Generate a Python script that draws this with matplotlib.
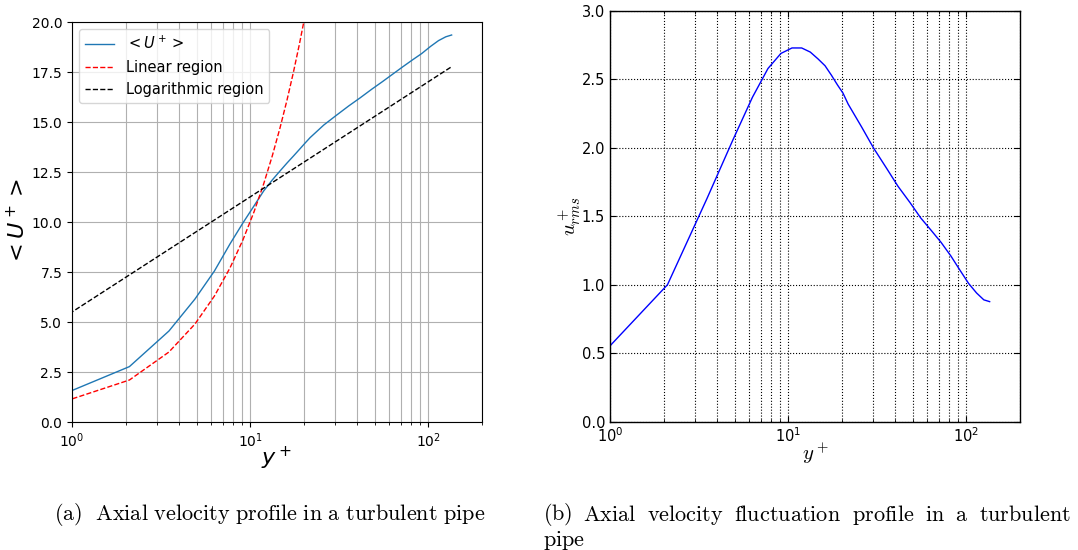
import numpy as np
import matplotlib
matplotlib.use("Agg")
import matplotlib.pyplot as plt

# Donnees (maillage proche paroi, y+ par pas ~1.4)
yplus = np.array([0.7, 2.1, 3.5, 4.9, 6.3, 7.7, 9.1, 10.5, 11.9, 13.3, 14.7,
                  16.1, 17.5, 18.9, 20.3, 21.7, 25.9, 30.1, 35.7, 41.3, 48.3,
                  55.3, 63.7, 72.1, 81.9, 91.7, 102.9, 114.1, 125.3, 135.1])
u_mean = np.array([1.0, 2.77, 4.55, 6.15, 7.55, 8.9, 9.95, 10.8, 11.55, 12.1,
                   12.55, 12.95, 13.3, 13.63, 13.94, 14.22, 14.85, 15.3, 15.8,
                   16.2, 16.65, 17.02, 17.42, 17.77, 18.12, 18.42, 18.78,
                   19.07, 19.26, 19.35])
u_rms = np.array([0.34, 1.0, 1.63, 2.06, 2.37, 2.58, 2.69, 2.73, 2.73, 2.70,
                  2.65, 2.60, 2.53, 2.46, 2.40, 2.32, 2.15, 2.0, 1.85, 1.72,
                  1.60, 1.49, 1.395, 1.31, 1.21, 1.11, 1.01, 0.94, 0.89, 0.877])

kappa = 0.4
B = 5.5

caption_a = 'Axial velocity profile in a turbulent pipe'
caption_b = ['(b)', 'Axial', 'velocity', 'fluctuation', 'profile', 'in', 'a',
             'turbulent']

fig = plt.figure(figsize=(10.78, 5.5), dpi=100)

# (a) profil de vitesse moyenne
ax1 = fig.add_axes([0.0668, 0.2327, 0.3803, 0.7273])
ax1.semilogx(yplus, u_mean, color='tab:blue', lw=1, label=r'$<U^+>$')
ax1.semilogx(yplus, yplus, 'r--', lw=1, label='Linear region')
ax1.semilogx(yplus, np.log(yplus) / kappa + B, 'k--', lw=1,
             label='Logarithmic region')
ax1.set_xlim(1, 200)
ax1.set_ylim(0, 20)
ax1.set_yticks(np.arange(0, 20.1, 2.5))
ax1.grid(True, which='both', color='#b0b0b0', lw=0.8)
ax1.tick_params(labelsize=10)
ax1.set_xlabel(r'$y^+$', fontsize=16, labelpad=-4)
ax1.set_ylabel(r'$<U^+>$', fontsize=16)
ax1.yaxis.set_label_coords(-0.105, 0.5)
ax1.legend(loc='upper left', fontsize=10.5)

# (b) fluctuation rms
ax2 = fig.add_axes([0.5659, 0.2333, 0.3803, 0.7467])
ax2.semilogx(yplus, u_rms, color='b', lw=1)
ax2.set_xlim(1, 200)
ax2.set_ylim(0, 3)
ax2.set_yticks(np.arange(0, 3.01, 0.5))
ax2.grid(True, which='major', axis='y', color='k', ls=':', lw=0.8)
ax2.grid(True, which='both', axis='x', color='k', ls=':', lw=0.8)
ax2.tick_params(which='both', direction='in', top=True, right=True,
                labelsize=10.5)
ax2.tick_params(which='major', length=4)
ax2.tick_params(which='minor', length=2)
for s in ax2.spines.values():
    s.set_linewidth(1.0)
ax2.set_xlabel(r'$y^+$', fontsize=15, math_fontfamily='cm', labelpad=-3)
ax2.set_ylabel(r'$u^+_{rms}$', fontsize=15, math_fontfamily='cm')
ax2.yaxis.set_label_coords(-0.065, 0.5)

# Legendes des sous-figures
fig.text(270 / 1078, 1 - 515 / 550,
         r'$\mathrm{(a)\ \ ' + caption_a.replace(' ', r'\ ') + '}$',
         ha='center', va='center', fontsize=16, math_fontfamily='cm')

# ligne justifiee entre x=543 et x=1071 px
renderer = fig.canvas.get_renderer()
words = [fig.text(0, 1 - 515 / 550, r'$\mathrm{' + w + '}$', ha='left',
                  va='center', fontsize=16, math_fontfamily='cm')
         for w in caption_b]
widths = [t.get_window_extent(renderer).width for t in words]
gap = (1071 - 543 - sum(widths)) / (len(words) - 1)
x = 543
for t, w in zip(words, widths):
    t.set_x(x / 1078)
    x += w + gap
fig.text(543 / 1078, 1 - 540 / 550, r'$\mathrm{pipe}$',
         ha='left', va='center', fontsize=16, math_fontfamily='cm')

fig.savefig('out.png', dpi=100)
